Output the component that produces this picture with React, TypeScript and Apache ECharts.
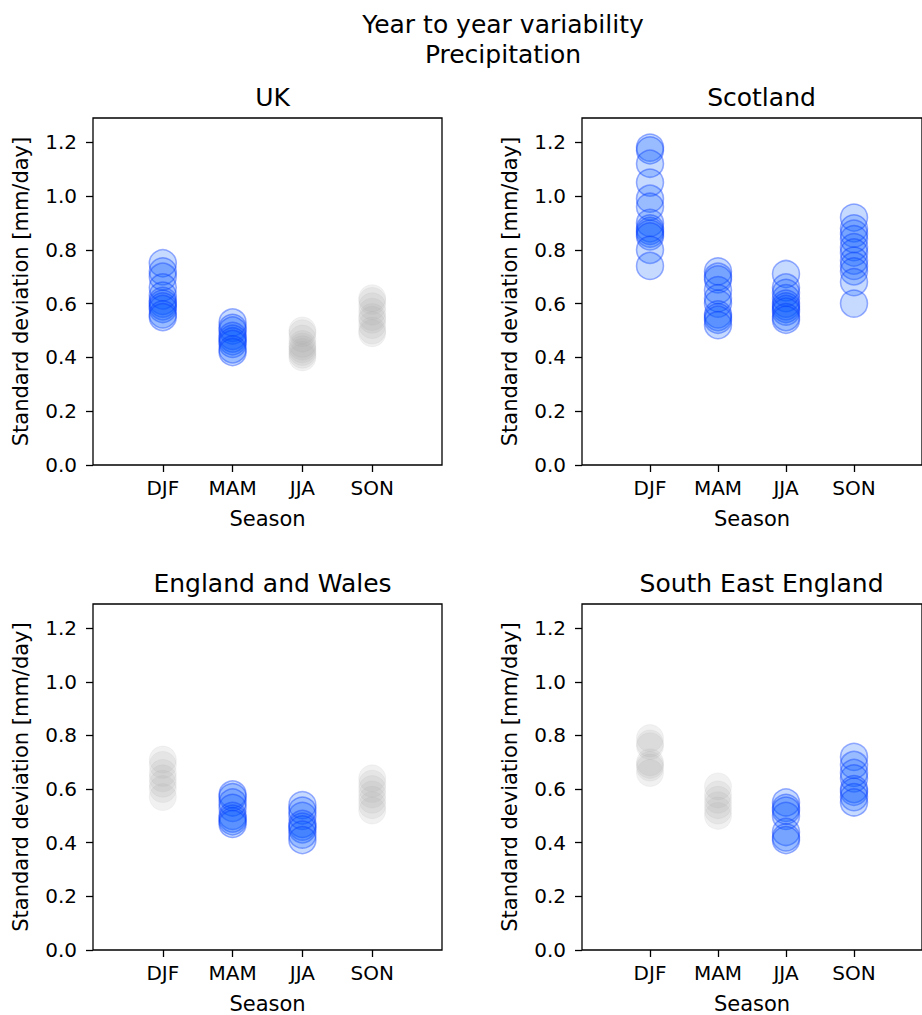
import React, { useEffect, useRef } from "react";
import * as echarts from "echarts";

const seasons = ["DJF", "MAM", "JJA", "SON"];
const yTicks = [0, 0.2, 0.4, 0.6, 0.8, 1.0, 1.2];
const panelTitles = ["UK", "Scotland", "England and Wales", "South East England"];

// UK
const ukDJF = [0.75, 0.72, 0.7, 0.66, 0.63, 0.61, 0.6, 0.59, 0.58, 0.56, 0.55];
const ukMAM = [0.53, 0.51, 0.5, 0.48, 0.47, 0.46, 0.45, 0.43, 0.42];
const ukJJA = [0.5, 0.49, 0.47, 0.45, 0.44, 0.43, 0.42, 0.41, 0.4];
const ukSON = [0.62, 0.61, 0.59, 0.57, 0.55, 0.54, 0.52, 0.5, 0.49];
// Scotland
const scDJF = [1.18, 1.17, 1.12, 1.05, 0.99, 0.96, 0.9, 0.88, 0.87, 0.86, 0.85, 0.8, 0.74];
const scMAM = [0.72, 0.7, 0.69, 0.65, 0.62, 0.6, 0.56, 0.55, 0.54, 0.52];
const scJJA = [0.71, 0.66, 0.64, 0.62, 0.6, 0.59, 0.58, 0.57, 0.55, 0.54];
const scSON = [0.92, 0.88, 0.86, 0.84, 0.81, 0.79, 0.76, 0.74, 0.72, 0.68, 0.6];
// England and Wales
const ewDJF = [0.71, 0.69, 0.66, 0.64, 0.62, 0.6, 0.57];
const ewMAM = [0.58, 0.57, 0.55, 0.53, 0.5, 0.49, 0.48, 0.47];
const ewJJA = [0.54, 0.52, 0.5, 0.47, 0.46, 0.45, 0.43, 0.41];
const ewSON = [0.64, 0.62, 0.6, 0.58, 0.56, 0.54, 0.52];
// South East England
const seDJF = [0.79, 0.77, 0.76, 0.7, 0.69, 0.68, 0.66];
const seMAM = [0.61, 0.58, 0.56, 0.54, 0.52, 0.5];
const seJJA = [0.55, 0.53, 0.52, 0.5, 0.44, 0.42, 0.41];
const seSON = [0.72, 0.69, 0.66, 0.64, 0.6, 0.59, 0.57, 0.55];

const panelData = [
  [ukDJF, ukMAM, ukJJA, ukSON],
  [scDJF, scMAM, scJJA, scSON],
  [ewDJF, ewMAM, ewJJA, ewSON],
  [seDJF, seMAM, seJJA, seSON],
];
// which seasons are highlighted (blue) in each panel
const highlighted = [
  [true, true, false, false],
  [true, true, true, true],
  [false, true, true, false],
  [false, false, true, true],
];

const FONT = "DejaVu Sans";

export default function App() {
  const ref = useRef<HTMLDivElement>(null);
  useEffect(() => {
    if (!ref.current) return;
    const chart = echarts.init(ref.current, null, { renderer: "svg" });
    const lefts = [93, 582, 93, 582];
    const tops = [118, 118, 604, 604];
    const W = 349;
    const H = 347;

    const grids = lefts.map((l, i) => ({
      left: l,
      top: tops[i],
      width: W,
      height: H,
      show: true,
      borderColor: "#000",
      borderWidth: 1.3,
      backgroundColor: "transparent",
    }));

    const xAxes = lefts.map((_, i) => ({
      type: "value",
      gridIndex: i,
      min: 0,
      max: 5,
      interval: 1,
      name: "Season",
      nameLocation: "middle",
      nameGap: 43,
      nameTextStyle: { fontFamily: FONT, fontSize: 21, color: "#000" },
      axisLine: { show: false },
      splitLine: { show: false },
      axisTick: {
        show: true,
        customValues: [1, 2, 3, 4],
        inside: false,
        length: 7,
        lineStyle: { color: "#000", width: 1.3 },
      },
      axisLabel: {
        customValues: [1, 2, 3, 4],
        formatter: (v: number) => seasons[Math.round(v) - 1] ?? "",
        fontFamily: FONT,
        fontSize: 20,
        color: "#000",
        margin: 13,
      },
    }));

    const yAxes = lefts.map((_, i) => ({
      type: "value",
      gridIndex: i,
      min: 0,
      max: 1.29,
      name: "Standard deviation [mm/day]",
      nameLocation: "middle",
      nameGap: 62,
      nameTextStyle: { fontFamily: FONT, fontSize: 21, color: "#000" },
      axisLine: { show: false },
      splitLine: { show: false },
      axisTick: {
        show: true,
        customValues: yTicks,
        length: 7,
        lineStyle: { color: "#000", width: 1.3 },
      },
      axisLabel: {
        customValues: yTicks,
        formatter: (v: number) => v.toFixed(1),
        fontFamily: FONT,
        fontSize: 20,
        color: "#000",
        margin: 16,
      },
    }));

    const series: any[] = [];
    panelData.forEach((panel, p) => {
      panel.forEach((vals, s) => {
        const blue = highlighted[p][s];
        series.push({
          type: "scatter",
          xAxisIndex: p,
          yAxisIndex: p,
          symbol: "circle",
          symbolSize: 27,
          data: vals.map((v) => [s + 1, v]),
          itemStyle: blue
            ? {
                color: "rgba(0,85,255,0.28)",
                borderColor: "rgba(0,55,255,0.5)",
                borderWidth: 1.5,
              }
            : {
                color: "rgba(170,170,170,0.2)",
                borderColor: "rgba(170,170,170,0.15)",
                borderWidth: 1,
              },
          emphasis: { disabled: true },
        });
      });
    });

    const titleCenters = lefts.map((l) => l + W / 2);
    const titles: any[] = [
      {
        text: "Year to year variability\nPrecipitation",
        left: 498,
        top: 4,
        textAlign: "center",
        textStyle: {
          fontFamily: FONT,
          fontSize: 25,
          fontWeight: "normal",
          color: "#000",
          lineHeight: 30,
        },
      },
      ...panelTitles.map((t, i) => ({
        text: t,
        left: titleCenters[i],
        top: tops[i] - 38,
        textAlign: "center",
        textStyle: {
          fontFamily: FONT,
          fontSize: 25,
          fontWeight: "normal",
          color: "#000",
        },
      })),
    ];

    chart.setOption({
      animation: false,
      backgroundColor: "#fff",
      title: titles,
      grid: grids,
      xAxis: xAxes,
      yAxis: yAxes,
      series,
    });
    return () => chart.dispose();
  }, []);
  return (
    <div
      ref={ref}
      style={{ position: "fixed", left: 0, top: 0, width: 922, height: 1015 }}
    />
  );
}
